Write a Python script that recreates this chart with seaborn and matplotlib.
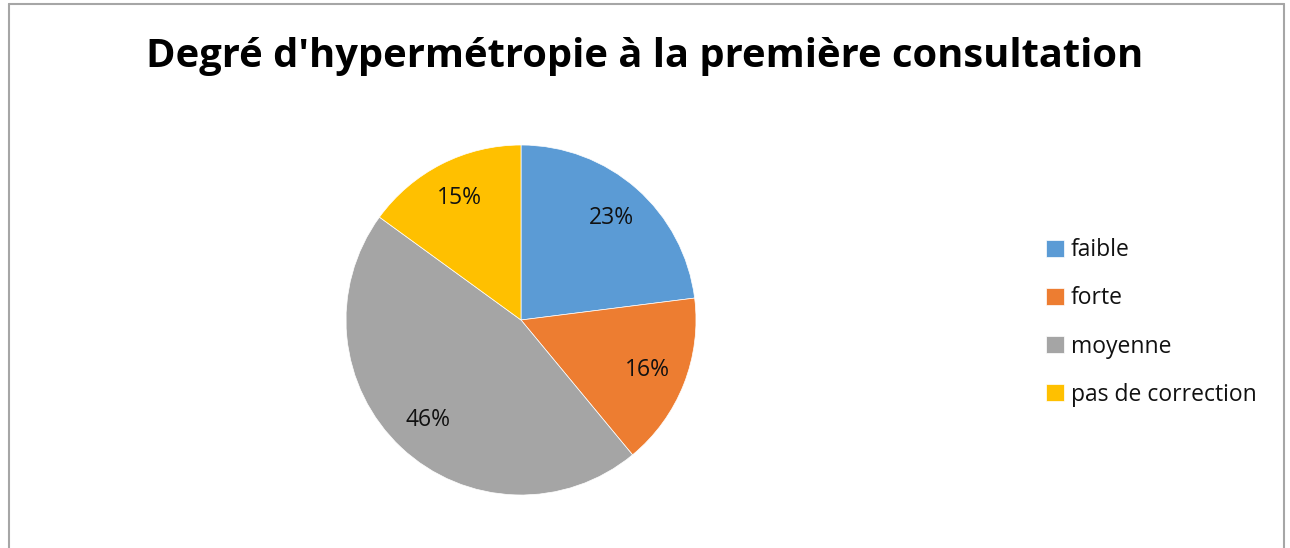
import matplotlib
matplotlib.use("Agg")
import matplotlib.pyplot as plt
import seaborn as sns
from matplotlib.lines import Line2D

# data
categories = ['faible', 'forte', 'moyenne', 'pas de correction']
values = [23, 16, 46, 15]
colors = ['#5B9BD5', '#ED7D31', '#A5A5A5', '#FFC000']
title = "Degré d'hypermétropie à la première consultation"

sns.set_theme(style='white')
plt.rcParams['font.family'] = ['Open Sans', 'DejaVu Sans']

fig = plt.figure(figsize=(12.9, 5.48), dpi=100)

# pie axes: centre about (521, 320) px, radius 175 px
ax = fig.add_axes([346 / 1290, 53 / 548, 350 / 1290, 350 / 548])
wedges, texts, autotexts = ax.pie(values, colors=colors, startangle=90, counterclock=False,
                                  autopct='%1.0f%%', pctdistance=0.78, radius=1.0,
                                  wedgeprops={'linewidth': 0.5, 'edgecolor': 'white'},
                                  textprops={'fontsize': 16.5, 'color': '#111111'})
ax.set_xlim(-1, 1)
ax.set_ylim(-1, 1)
ax.set_aspect('equal')
ax.axis('off')

fig.text(645 / 1290, 1 - 56 / 548, title, ha='center', va='center',
         fontsize=28.7, fontweight='bold', color='black')

leg = fig.legend(wedges, categories, loc='center left', bbox_to_anchor=(1025 / 1290, 1 - 322.5 / 548),
                 frameon=False, fontsize=16.5, handlelength=0.8, handleheight=0.8,
                 handletextpad=0.3, labelspacing=1.05)
for t in leg.get_texts():
    t.set_color('#111111')

# chart border (left, top, right)
border = '#A6A6A6'
fig.add_artist(Line2D([8.5 / 1290, 8.5 / 1290], [0, 1 - 3.5 / 548], color=border, lw=1.5))
fig.add_artist(Line2D([8.5 / 1290, 1283.5 / 1290], [1 - 3.5 / 548, 1 - 3.5 / 548], color=border, lw=1.5))
fig.add_artist(Line2D([1283.5 / 1290, 1283.5 / 1290], [0, 1 - 3.5 / 548], color=border, lw=1.5))

fig.savefig('out.png', dpi=100, facecolor='white')
